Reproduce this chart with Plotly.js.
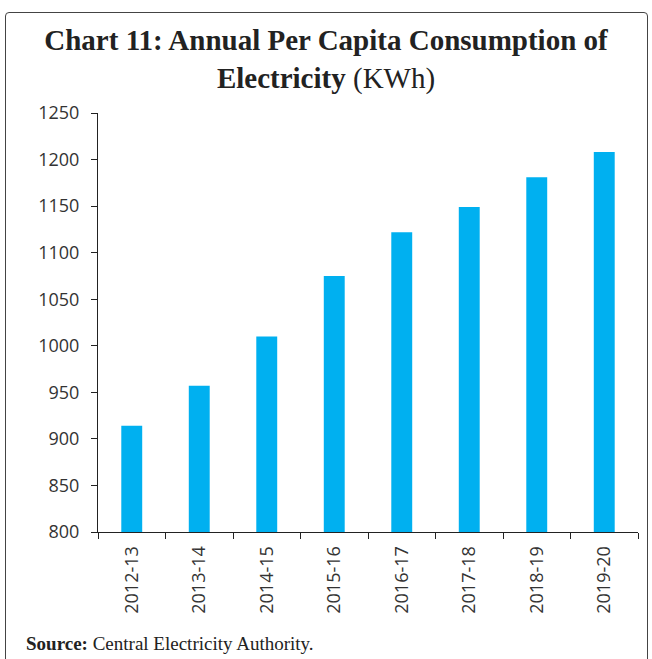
<!DOCTYPE html>
<html>
<head>
<meta charset="utf-8">
<script src="https://cdn.plot.ly/plotly-3.0.1.min.js"></script>
<style>
html,body{margin:0;padding:0;background:#fff;}
#chart{width:652px;height:659px;}
#frame{position:absolute;left:5px;top:12px;width:641px;height:700px;border:1.5px solid #444;border-radius:4px;pointer-events:none;}
</style>
</head>
<body>
<div id="chart"></div>
<div id="frame"></div>
<script>
const categories = ['2012-13','2013-14','2014-15','2015-16','2016-17','2017-18','2018-19','2019-20'];
const consumption = [914, 957, 1010, 1075, 1122, 1149, 1181, 1208];
const yTicks = [800, 850, 900, 950, 1000, 1050, 1100, 1150, 1200, 1250];

const trace = {
  type: 'bar',
  x: categories,
  y: consumption,
  marker: {color: '#00B0F0'},
  hoverinfo: 'x+y'
};

const layout = {
  width: 652,
  height: 659,
  margin: {l: 98, r: 14, t: 113, b: 127},
  paper_bgcolor: '#fff',
  plot_bgcolor: '#fff',
  showlegend: false,
  bargap: 0.69,
  title: {
    text: '<b>Chart 11: Annual Per Capita Consumption of<br>Electricity</b> (KWh)',
    font: {family: 'Liberation Serif, serif', size: 29, color: '#222'},
    x: 0.5, xanchor: 'center', xref: 'container',
    y: 1 - 50/659, yanchor: 'top', yref: 'container'
  },
  xaxis: {
    type: 'category',
    tickangle: -90,
    tickson: 'boundaries',
    ticks: 'outside', ticklen: 6, tickcolor: '#222', tickwidth: 1,
    showline: true, linecolor: '#222', linewidth: 1,
    showgrid: false,
    ticklabelstandoff: 6,
    tickfont: {family: 'Open Sans, sans-serif', size: 18, color: '#333'}
  },
  yaxis: {
    range: [800, 1250],
    tickvals: yTicks,
    ticktext: yTicks.map(String),
    ticks: 'outside', ticklen: 6, tickcolor: '#222', tickwidth: 1,
    showline: true, linecolor: '#222', linewidth: 1,
    showgrid: false, zeroline: false,
    ticklabelstandoff: 8,
    tickfont: {family: 'Open Sans, sans-serif', size: 18, color: '#333'}
  },
  annotations: [{
    text: '<b>Source:</b> Central Electricity Authority.',
    xref: 'paper', yref: 'paper',
    x: -(98-24)/540, xanchor: 'left',
    y: -(643-532)/419, yanchor: 'middle',
    showarrow: false,
    font: {family: 'Liberation Serif, serif', size: 19, color: '#222'}
  }]
};

Plotly.newPlot('chart', [trace], layout, {displayModeBar: false, staticPlot: true});
</script>
</body>
</html>
